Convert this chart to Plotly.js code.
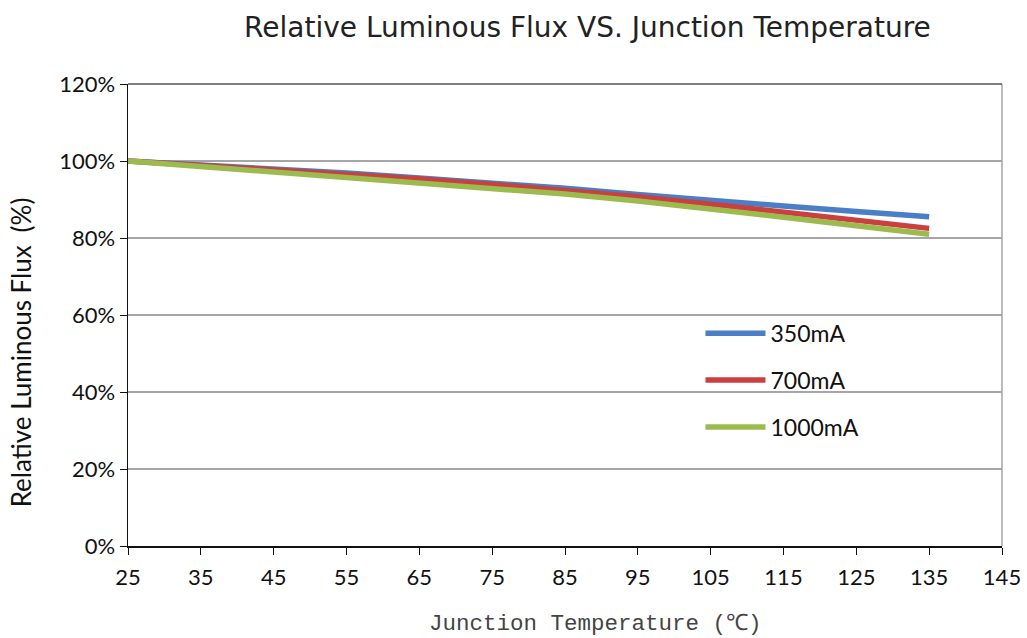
<!DOCTYPE html>
<html>
<head>
<meta charset="utf-8">
<script src="https://cdn.plot.ly/plotly-3.0.1.min.js"></script>
<style>html,body{margin:0;padding:0;background:#fff;}#chart{width:1027px;height:638px;}</style>
</head>
<body>
<div id="chart"></div>
<script>
var temps = [25, 35, 45, 55, 65, 75, 85, 95, 105, 115, 125, 135];
var flux350 = [100, 99.0, 98.0, 96.9, 95.6, 94.3, 92.9, 91.3, 89.7, 88.3, 86.9, 85.5];
var flux700 = [100, 98.9, 97.8, 96.6, 95.3, 93.9, 92.4, 90.7, 88.8, 86.7, 84.6, 82.5];
var flux1000 = [100, 98.6, 97.2, 95.8, 94.4, 93.0, 91.4, 89.6, 87.6, 85.4, 83.2, 81.0];
var seriesNames = ['350mA', '700mA', '1000mA'];
var seriesColors = ['#4a7ec6', '#c9403e', '#9bbb4f'];
var xTicks = [25, 35, 45, 55, 65, 75, 85, 95, 105, 115, 125, 135, 145];
var yTicks = [0, 20, 40, 60, 80, 100, 120];
var yTickLabels = ['0%', '20%', '40%', '60%', '80%', '100%', '120%'];

var data = [flux350, flux700, flux1000].map(function (vals, i) {
  return {
    x: temps, y: vals, type: 'scatter', mode: 'lines',
    name: seriesNames[i], legendgroup: 'g' + i,
    line: {color: seriesColors[i], width: 5.5}
  };
});

var layout = {
  width: 1027, height: 638,
  margin: {l: 128, r: 25, t: 84, b: 92},
  paper_bgcolor: '#fff', plot_bgcolor: '#fff',
  font: {family: 'Lato, "Open Sans", sans-serif', size: 22, color: '#111'},
  title: {text: 'Relative Luminous Flux VS. Junction Temperature',
          font: {family: '"DejaVu Sans", sans-serif', size: 28, color: '#222'},
          x: 0.572, xanchor: 'center', y: 0.957, yanchor: 'middle'},
  xaxis: {
    range: [25, 145], tickvals: xTicks, ticks: 'outside', ticklen: 7, tickcolor: '#111',
    showline: true, linecolor: '#111', linewidth: 1.5, mirror: false, showgrid: false, zeroline: false,
    tickfont: {family: 'Lato, sans-serif', size: 22, color: '#111'}, ticklabelstandoff: 4
  },
  yaxis: {
    range: [0, 120], tickvals: yTicks, ticktext: yTickLabels, ticks: 'outside', ticklen: 7, tickcolor: '#111',
    showline: true, linecolor: '#111', linewidth: 1.5, showgrid: true, gridcolor: '#a6a6a6', gridwidth: 1.5,
    zeroline: false, tickfont: {family: 'Lato, sans-serif', size: 22, color: '#111'}
  },
  annotations: [
    {text: 'Junction Temperature (℃)', xref: 'paper', yref: 'paper', x: 0.535, y: -0.168,
     xanchor: 'center', yanchor: 'middle', showarrow: false,
     font: {family: '"Liberation Mono", monospace', size: 22.5, color: '#444'}},
    {text: 'Relative Luminous Flux\u2002(%)', xref: 'paper', yref: 'paper', x: -0.122, y: 0.42,
     xanchor: 'center', yanchor: 'middle', textangle: -90, showarrow: false,
     font: {family: 'Lato, sans-serif', size: 26, color: '#111'}}
  ],
  legend: {x: 0.655, y: 0.507, xanchor: 'left', yanchor: 'top', bgcolor: 'rgba(0,0,0,0)',
           itemwidth: 60, tracegroupgap: 14, font: {family: 'Lato, sans-serif', size: 23, color: '#111'}},
  shapes: [
    {type: 'line', xref: 'paper', yref: 'paper', x0: 1, x1: 1, y0: 0, y1: 1, line: {color: '#a6a6a6', width: 1.5}},
    {type: 'line', xref: 'paper', yref: 'paper', x0: 0, x1: 1, y0: 1, y1: 1, line: {color: '#555', width: 1.5}}
  ]
};

Plotly.newPlot('chart', data, layout, {displayModeBar: false, staticPlot: true});
</script>
</body>
</html>
